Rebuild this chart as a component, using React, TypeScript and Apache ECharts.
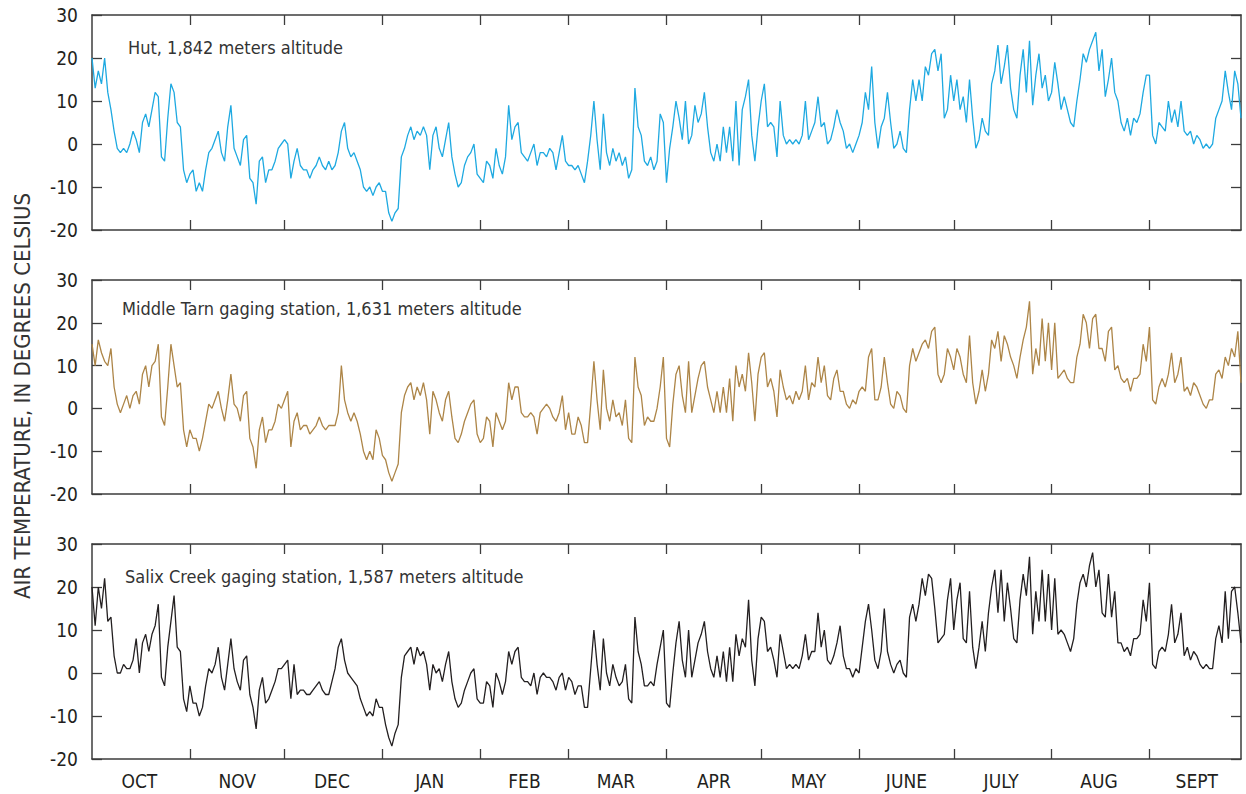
import React, { useEffect, useRef } from "react";
import * as echarts from "echarts";

// Water-year months and their lengths
const MONTHS = ["OCT", "NOV", "DEC", "JAN", "FEB", "MAR", "APR", "MAY", "JUNE", "JULY", "AUG", "SEPT"];
const MONTH_DAYS = [31, 30, 31, 31, 28, 31, 30, 31, 30, 31, 31, 30];
const Y_TICKS = [-20, -10, 0, 10, 20, 30];

const TITLES = [
  "Hut, 1,842 meters altitude",
  "Middle Tarn gaging station, 1,631 meters altitude",
  "Salix Creek gaging station, 1,587 meters altitude",
];
const Y_NAME = "AIR TEMPERATURE, IN DEGREES CELSIUS";

// Daily air temperature, degrees Celsius (Oct 1 .. Sep 30)
const hutTemps = [
  // OCT
  20, 13, 17, 14, 20, 12, 8, 3, -1, -2, -1, -2, 0, 3, 1, -2, 5, 7, 4, 8, 12, 11, -3, -4, 6, 14, 12, 5, 4, -6, -9,
  // NOV
  -7, -6, -11, -9, -11, -6, -2, -1, 1, 3, -2, -4, 4, 9, -1, -3, -5, 1, 2, -8, -9, -14, -4, -3, -9, -6, -6, -4, -1, 0,
  // DEC
  1, 0, -8, -4, -1, -5, -6, -6, -8, -6, -5, -3, -5, -6, -4, -6, -5, -2, 3, 5, -1, -3, -2, -4, -6, -10, -11, -10, -12, -10, -9,
  // JAN
  -11, -11, -16, -18, -16, -15, -3, -1, 2, 4, 1, 3, 2, 4, 2, -6, 2, 4, -1, -3, 1, 5, -3, -7, -10, -9, -5, -3, -2, 0, -7,
  // FEB
  -8, -9, -4, -5, -8, -1, -5, -7, -3, 9, 1, 4, 5, -2, -3, -4, -2, 0, -5, -2, -2, -3, -1, -2, -6, -2, 2, -4,
  // MAR
  -5, -5, -6, -5, -7, -9, -4, 2, 10, 1, -6, 7, -2, -5, -1, -4, -2, -5, -3, -8, -6, 13, 4, 2, -4, -5, -3, -6, -4, 7, 5,
  // APR
  -9, -1, 4, 10, 6, 1, 10, 0, 2, 9, 5, 7, 12, 4, -2, -4, 0, -4, 4, -2, 4, -4, 10, -5, 8, 11, 15, 2, -4, 4,
  // MAY
  10, 14, 4, 5, 4, -3, 10, 2, 0, 1, 0, 1, 0, 2, 10, 1, 3, 5, 11, 4, 5, 0, 1, 4, 8, 5, 3, -1, 0, -2, 0,
  // JUNE
  2, 5, 12, 8, 18, 5, -1, 4, 6, 12, 5, -1, 0, 3, -1, -2, 8, 15, 10, 15, 10, 18, 16, 21, 22, 17, 21, 6, 8, 16,
  // JULY
  10, 15, 8, 11, 5, 15, 6, -1, 1, 6, 3, 2, 14, 17, 23, 14, 18, 23, 13, 8, 6, 16, 22, 12, 24, 9, 16, 21, 13, 16, 10,
  // AUG
  12, 19, 14, 8, 11, 8, 5, 4, 10, 15, 21, 19, 22, 24, 26, 17, 22, 11, 15, 20, 12, 10, 5, 3, 6, 2, 6, 5, 7, 12, 16,
  // SEPT
  16, 2, 0, 5, 4, 3, 10, 5, 8, 4, 10, 3, 2, 3, 0, 2, 1, -1, 0, -1, 0, 6, 8, 10, 17, 12, 8, 17, 14, 6,
];

const tarnTemps = [
  // OCT
  15, 10, 16, 13, 11, 10, 14, 5, 1, -1, 1, 3, 0, 3, 4, 1, 8, 10, 5, 10, 11, 15, -2, -4, 5, 15, 10, 5, 6, -5, -9,
  // NOV
  -5, -7, -7, -10, -7, -3, 1, 0, 2, 4, 0, -3, 2, 8, 1, 0, -3, 3, 4, -7, -9, -14, -5, -2, -8, -5, -5, -3, 1, 0,
  // DEC
  2, 4, -9, -3, -1, -5, -4, -4, -6, -5, -4, -2, -4, -5, -4, -4, -4, -1, 10, 2, -1, -3, -1, -3, -6, -10, -12, -10, -12, -5, -7,
  // JAN
  -11, -12, -15, -17, -15, -13, -1, 3, 5, 6, 2, 5, 3, 6, 2, -6, 4, 2, -1, -3, 2, 4, -2, -7, -8, -6, -3, -1, 1, 2, -6,
  // FEB
  -8, -7, -2, -3, -9, -1, -3, -5, -3, 6, 2, 5, 5, -1, -2, -2, -1, -2, -6, -1, 0, 1, 0, -2, -3, -1, 3, -5,
  // MAR
  -1, -6, -6, -2, -4, -8, -8, 1, 11, 2, -5, 9, 0, -3, 2, -2, -1, -4, 2, -7, -8, 12, 5, 3, -4, -2, -3, -3, 0, 5, 12,
  // APR
  -7, -9, 1, 8, 10, 3, -1, 11, -1, 3, 7, 10, 11, 5, 2, -1, 4, -1, 5, -1, 7, -3, 10, 5, 8, 4, 13, 6, -3, 8,
  // MAY
  12, 13, 5, 7, 4, -2, 9, 5, 2, 3, 1, 4, 2, 4, 10, 2, 6, 5, 12, 6, 10, 3, 2, 7, 9, 4, 4, 1, 0, 2, 1,
  // JUNE
  4, 5, 4, 12, 14, 2, 2, 5, 12, 6, 1, 0, 4, 3, 0, -1, 10, 14, 11, 13, 15, 16, 14, 18, 19, 8, 6, 8, 14, 12,
  // JULY
  9, 14, 12, 8, 6, 17, 6, 1, 4, 9, 4, 8, 16, 14, 18, 11, 17, 15, 12, 10, 7, 12, 16, 19, 25, 8, 14, 10, 21, 11, 20,
  // AUG
  9, 20, 7, 8, 9, 7, 6, 6, 12, 15, 22, 20, 14, 21, 22, 14, 14, 11, 18, 19, 9, 10, 7, 6, 7, 4, 7, 7, 8, 15, 11,
  // SEPT
  19, 2, 1, 5, 7, 5, 8, 13, 6, 8, 12, 4, 5, 3, 6, 5, 3, 1, 0, 2, 2, 8, 9, 7, 12, 10, 14, 12, 18, 6,
];

const salixTemps = [
  // OCT
  20, 11, 20, 15, 22, 12, 13, 4, 0, 0, 2, 1, 1, 3, 8, 0, 7, 9, 5, 9, 11, 16, -1, -3, 6, 12, 18, 6, 5, -6, -9,
  // NOV
  -3, -7, -7, -10, -8, -3, 1, 0, 2, 6, -1, -4, 2, 8, 1, -2, -4, 3, 4, -5, -8, -13, -4, -1, -7, -6, -4, -2, 1, 1,
  // DEC
  2, 3, -6, 2, -5, -4, -4, -5, -5, -4, -3, -2, -4, -5, -5, -2, 1, 6, 8, 3, 0, -1, -2, -3, -6, -8, -10, -9, -10, -6, -8,
  // JAN
  -8, -12, -15, -17, -14, -12, -1, 4, 5, 6, 2, 6, 4, 5, 2, -4, 2, 0, 1, -2, 2, 5, -2, -6, -8, -7, -4, -2, 0, 1, -6,
  // FEB
  -7, -7, -2, -3, -8, 0, -2, -5, -2, 5, 2, 5, 6, -1, -2, -2, -3, 0, -5, -1, 0, -1, -1, -2, -4, -1, 0, -4,
  // MAR
  -1, -2, -5, -3, -3, -8, -8, 1, 10, 2, -4, 8, 0, -3, 2, -1, -3, -2, 2, -6, -7, 13, 5, 2, -3, -3, -2, -3, 2, 6, 10,
  // APR
  -7, -8, 0, 7, 12, 3, -1, 10, -1, 3, 7, 9, 12, 5, 1, -1, 4, -1, 5, -2, 6, -2, 9, 4, 8, 6, 17, 3, -3, 8,
  // MAY
  13, 12, 5, 6, 3, -1, 9, 5, 1, 2, 1, 2, 1, 4, 9, 3, 5, 5, 14, 6, 10, 3, 2, 4, 7, 11, 4, 1, 1, -1, 1,
  // JUNE
  0, 6, 12, 16, 10, 3, 1, 5, 15, 5, 2, 0, 2, 3, 0, -1, 13, 16, 12, 16, 22, 18, 23, 22, 15, 7, 8, 9, 17, 22,
  // JULY
  10, 17, 21, 8, 7, 19, 6, 1, 6, 12, 5, 14, 20, 24, 14, 24, 12, 21, 15, 8, 7, 17, 23, 18, 27, 9, 19, 12, 24, 12, 23,
  // AUG
  10, 22, 9, 10, 9, 7, 5, 8, 16, 21, 23, 20, 25, 28, 20, 24, 14, 13, 23, 13, 19, 7, 7, 5, 6, 4, 8, 8, 9, 17, 12,
  // SEPT
  21, 2, 1, 5, 6, 5, 9, 16, 7, 9, 14, 4, 6, 3, 5, 4, 2, 1, 2, 1, 1, 8, 11, 7, 19, 8, 19, 20, 14, 7,
];

const SERIES = [hutTemps, tarnTemps, salixTemps];
const COLORS = ["#1ea9e1", "#ad8547", "#231f20"];

const FONT = "'Liberation Sans Narrow', 'DejaVu Sans Condensed', 'Roboto', sans-serif";
const INK = "#231f20";
const FRAME = "#3c3c3c";

// build category axis (one entry per day)
const categories: string[] = [];
const monthStart = new Set<number>();
const monthMid = new Set<number>();
{
  let idx = 0;
  MONTHS.forEach((m, mi) => {
    monthStart.add(idx);
    monthMid.add(idx + Math.floor(MONTH_DAYS[mi] / 2));
    for (let d = 1; d <= MONTH_DAYS[mi]; d++) {
      categories.push(m + " " + d);
      idx++;
    }
  });
}

const GRIDS = [
  { top: 15, height: 215 },
  { top: 280, height: 214 },
  { top: 544, height: 215 },
];
const LEFT = 92;
const WIDTH = 1149;

export default function App() {
  const ref = useRef<HTMLDivElement>(null);
  useEffect(() => {
    if (!ref.current) return;
    const chart = echarts.init(ref.current, undefined, { renderer: "svg" });
    const grid: any[] = [];
    const xAxis: any[] = [];
    const yAxis: any[] = [];
    const series: any[] = [];
    GRIDS.forEach((g, gi) => {
      grid.push({ left: LEFT, top: g.top, width: WIDTH, height: g.height, containLabel: false });
      const tickCommon = {
        show: true,
        inside: true,
        length: 10,
        lineStyle: { color: FRAME, width: 1.3 },
      };
      const lineCommon = { show: true, onZero: false, lineStyle: { color: FRAME, width: 1.5 } };
      xAxis.push({
        type: "category",
        gridIndex: gi,
        position: "bottom",
        data: categories,
        boundaryGap: false,
        axisLine: lineCommon,
        axisTick: { ...tickCommon, interval: (i: number) => monthStart.has(i) && i > 0 },
        axisLabel: {
          show: gi === 2,
          interval: (i: number) => monthMid.has(i),
          formatter: (v: string) => v.split(" ")[0],
          color: INK,
          fontFamily: FONT,
          fontSize: 19,
          margin: 12,
        },
        splitLine: { show: false },
      });
      xAxis.push({
        type: "category",
        gridIndex: gi,
        position: "top",
        data: categories,
        boundaryGap: false,
        axisLine: lineCommon,
        axisTick: { ...tickCommon, interval: (i: number) => monthStart.has(i) && i > 0 },
        axisLabel: { show: false },
        splitLine: { show: false },
      });
      yAxis.push({
        type: "value",
        gridIndex: gi,
        position: "left",
        min: Y_TICKS[0],
        max: Y_TICKS[Y_TICKS.length - 1],
        interval: 10,
        axisLine: lineCommon,
        axisTick: tickCommon,
        axisLabel: { color: INK, fontFamily: FONT, fontSize: 19, margin: 14 },
        splitLine: { show: false },
      });
      yAxis.push({
        type: "value",
        gridIndex: gi,
        position: "right",
        min: Y_TICKS[0],
        max: Y_TICKS[Y_TICKS.length - 1],
        interval: 10,
        axisLine: lineCommon,
        axisTick: tickCommon,
        axisLabel: { show: false },
        splitLine: { show: false },
      });
      series.push({
        type: "line",
        name: TITLES[gi],
        xAxisIndex: gi * 2,
        yAxisIndex: gi * 2,
        data: SERIES[gi],
        showSymbol: false,
        symbol: "none",
        lineStyle: { color: COLORS[gi], width: 1.3 },
        z: 1,
      });
    });

    const titlePos = [
      { x: 128, y: 47 },
      { x: 122, y: 308 },
      { x: 125, y: 576 },
    ];
    const graphic: any[] = TITLES.map((t, i) => ({
      type: "text",
      x: titlePos[i].x,
      y: titlePos[i].y,
      style: {
        text: t,
        fill: "#333333",
        fontFamily: FONT,
        fontSize: 18,
        textAlign: "left",
        textVerticalAlign: "middle",
      },
    }));
    graphic.push({
      type: "text",
      x: 22,
      y: 396,
      rotation: Math.PI / 2,
      style: {
        text: Y_NAME,
        fill: "#333333",
        fontFamily: FONT,
        fontSize: 22,
        textAlign: "center",
        textVerticalAlign: "middle",
      },
    });

    chart.setOption({
      animation: false,
      backgroundColor: "#ffffff",
      grid,
      xAxis,
      yAxis,
      series,
      graphic,
    });
    return () => chart.dispose();
  }, []);
  return (
    <div
      ref={ref}
      style={{ position: "fixed", left: 0, top: 0, width: 1246, height: 794 }}
    />
  );
}
